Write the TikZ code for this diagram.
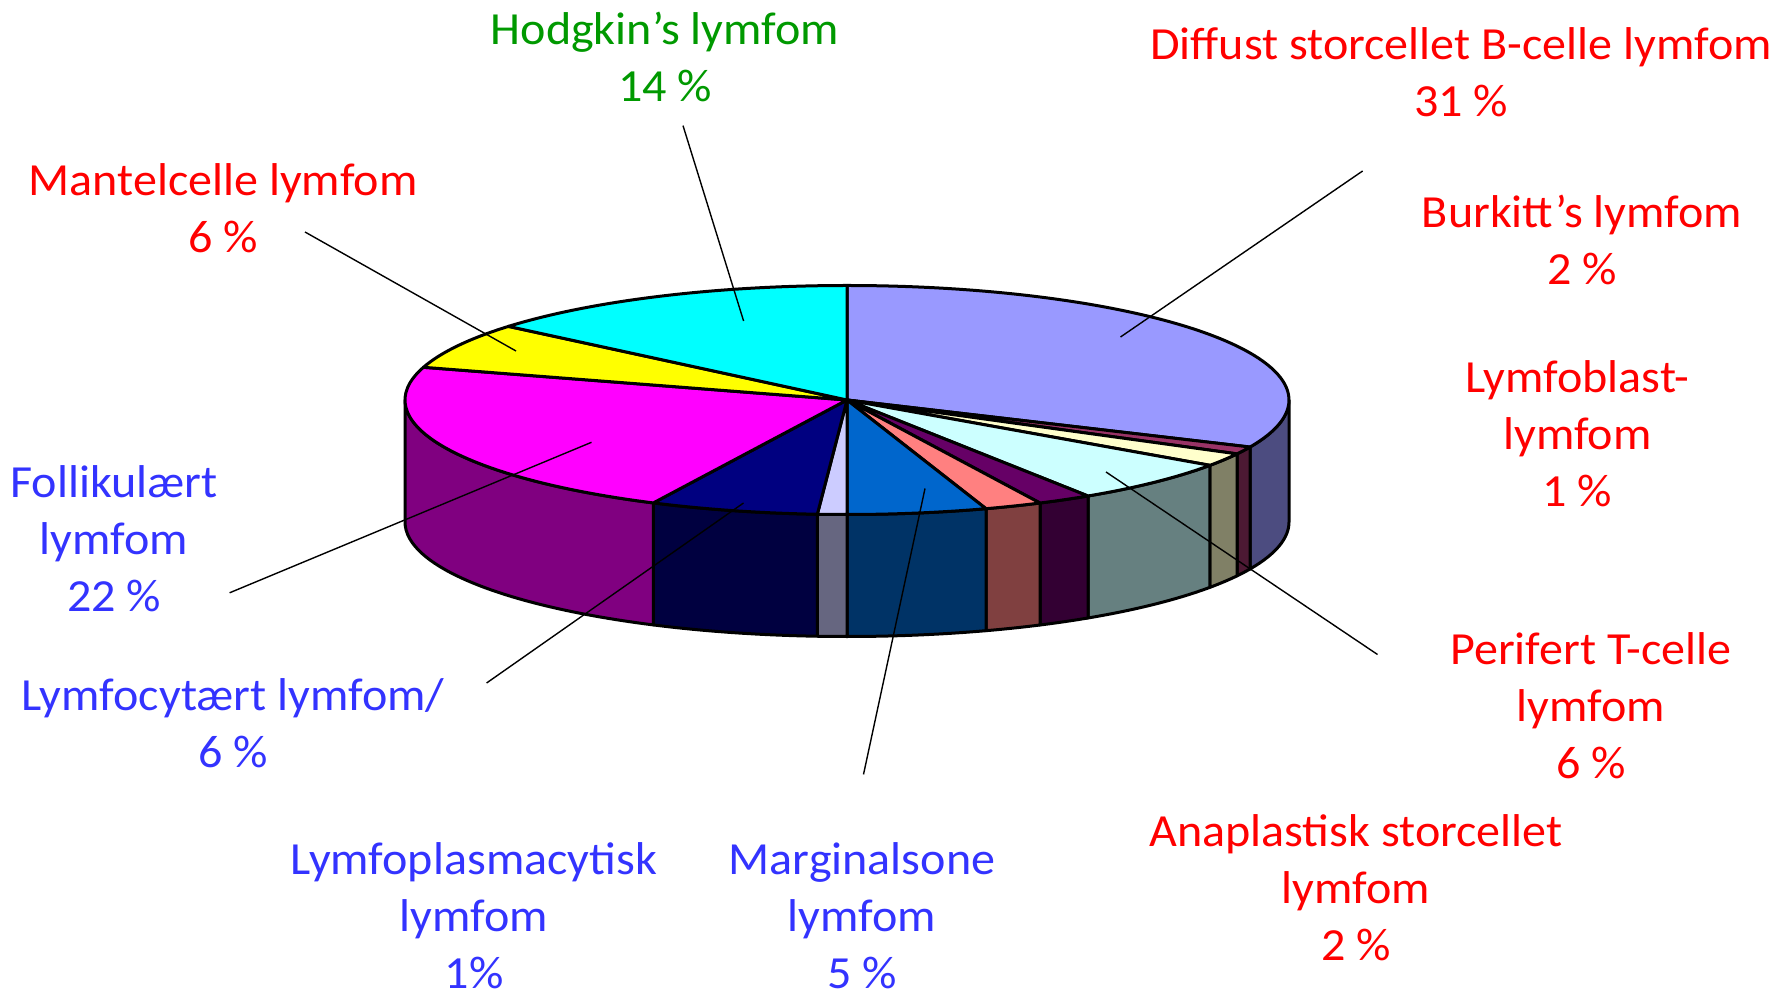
\documentclass[tikz,border=0pt]{standalone}
\usepackage{fontspec}
\setmainfont{Carlito}[FakeStretch=1.045]
\usepackage{tikz}

\definecolor{diffust}{HTML}{9999FF}
\definecolor{burkitt}{HTML}{993366}
\definecolor{blast}{HTML}{FFFFCC}
\definecolor{perifert}{HTML}{CCFFFF}
\definecolor{anapl}{HTML}{660066}
\definecolor{salmon}{HTML}{FF8080}
\definecolor{marginal}{HTML}{0066CC}
\definecolor{plasma}{HTML}{CCCCFF}
\definecolor{cyt}{HTML}{000080}
\definecolor{follik}{HTML}{FF00FF}
\definecolor{mantel}{HTML}{FFFF00}
\definecolor{hodgkin}{HTML}{00FFFF}
\definecolor{tred}{HTML}{FF0000}
\definecolor{tblue}{HTML}{3333FF}
\definecolor{tgreen}{HTML}{009900}

\begin{document}
\begin{tikzpicture}[x=0.5pt, y=0.5pt]
\tikzstyle{lbl}=[align=center, inner sep=0pt, font=\fontsize{23}{28.5}\selectfont]
\tikzstyle{slice}=[draw, line width=1.5pt, line join=round]
\useasboundingbox (0,0) rectangle (1791,991);

\begin{scope}[shift={(847,591)}]
% front wall
\foreach \a/\b/\c in {0/-24.25/diffust, -24.25/-28.07/burkitt, -28.07/-34.79/blast,
  -34.79/-56.96/perifert, -56.96/-64.11/anapl, -64.11/-71.67/salmon,
  -71.67/-90/marginal, -90/-93.85/plasma, -93.85/-115.99/cyt, -115.99/-180/follik}
  \filldraw[slice, fill=\c!50!black] (\a:442 and 114.5)
    arc[start angle=\a, end angle=\b, x radius=442, y radius=114.5] -- ++(0,-122)
    arc[start angle=\b, end angle=\a, x radius=442, y radius=114.5] -- cycle;
% top
\foreach \a/\b/\c in {90/-24.25/diffust, -24.25/-28.07/burkitt, -28.07/-34.79/blast,
  -34.79/-56.96/perifert, -56.96/-64.11/anapl, -64.11/-71.67/salmon,
  -71.67/-90/marginal, -90/-93.85/plasma, -93.85/-115.99/cyt, -115.99/-196.6/follik,
  -196.6/-220/mantel, -220/-270/hodgkin}
  \filldraw[slice, fill=\c] (0,0) -- (\a:442 and 114.5)
    arc[start angle=\a, end angle=\b, x radius=442, y radius=114.5] -- cycle;
\end{scope}

\node[lbl, tgreen] (hodgkinL) at (665,934) {Hodgkin’s lymfom\\14 \%};
\node[lbl, tred] (diffustL) at (1461,918.5) {Diffust storcellet B-celle lymfom\\31 \%};
\node[lbl, tred] (burkittL) at (1582,751.5) {Burkitt’s lymfom\\2 \%};
\node[lbl, tred] (blastL) at (1577.5,557) {Lymfoblast-\\lymfom\\1 \%};
\node[lbl, tred] (perifertL) at (1591,285) {Perifert T-celle\\lymfom\\6 \%};
\node[lbl, tred] (anaplL) at (1356,103.5) {Anaplastisk storcellet\\lymfom\\2 \%};
\node[lbl, tblue] (marginalL) at (862,75) {Marginalsone\\lymfom\\5 \%};
\node[lbl, tblue] (plasmaL) at (474,75) {Lymfoplasmacytisk\\lymfom\\1\%};
\node[lbl, tblue] (cytL) at (233,268) {Lymfocytært lymfom/\\6 \%};
\node[lbl, tblue] (follikL) at (114,452) {Follikulært\\lymfom\\22 \%};
\node[lbl, tred] (mantelL) at (223,782.7) {Mantelcelle lymfom\\6 \%};

\coordinate (hodgkinA) at (683,865.4);   \coordinate (hodgkinB) at (743.6,670);
\coordinate (diffustA) at (1362.6,820);  \coordinate (diffustB) at (1120.5,654);
\coordinate (mantelA) at (305,759);      \coordinate (mantelB) at (516,640);
\coordinate (follikA) at (229.6,398.2);  \coordinate (follikB) at (591.5,548.7);
\coordinate (cytA) at (486.6,308);       \coordinate (cytB) at (743.5,488);
\coordinate (marginalA) at (863.5,216.6); \coordinate (marginalB) at (925,502.5);
\coordinate (perifertA) at (1377.5,336.5); \coordinate (perifertB) at (1106,519);

\path[line width=0.7pt]
(hodgkinA) edge (hodgkinB)
(diffustA) edge (diffustB)
(mantelA) edge (mantelB)
(follikA) edge (follikB)
(cytA) edge (cytB)
(marginalA) edge (marginalB)
(perifertA) edge (perifertB);

\end{tikzpicture}
\end{document}
